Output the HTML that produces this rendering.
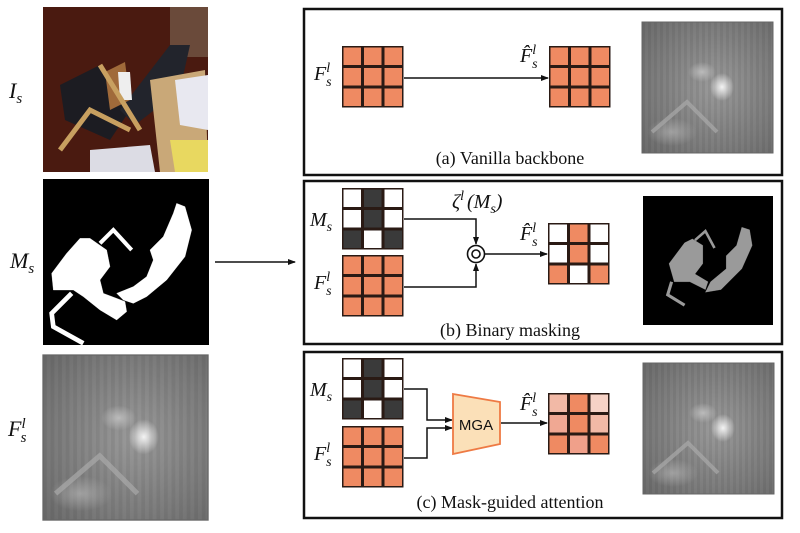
<!DOCTYPE html>
<html><head><meta charset="utf-8"><style>
html,body{margin:0;padding:0;background:#fff;}
svg{display:block;}
text{font-family:"Liberation Serif",serif;fill:#111;}
.it{font-style:italic;}
</style></head><body>
<svg width="800" height="533" viewBox="0 0 800 533">
<defs>
<radialGradient id="g1" cx="0.55" cy="0.5" r="0.75"><stop offset="0" stop-color="#9a9a9a"/><stop offset="1" stop-color="#6a6a6a"/></radialGradient>
<radialGradient id="hot" cx="0.5" cy="0.5" r="0.5"><stop offset="0" stop-color="#f4f4f4"/><stop offset="1" stop-color="#f4f4f4" stop-opacity="0"/></radialGradient>
<radialGradient id="soft" cx="0.5" cy="0.5" r="0.5"><stop offset="0" stop-color="#bbb"/><stop offset="1" stop-color="#bbb" stop-opacity="0"/></radialGradient>
<pattern id="noise" width="6" height="6" patternUnits="userSpaceOnUse"><rect width="3" height="6" fill="#000" opacity="0.06"/></pattern>
<marker id="ah" markerWidth="8" markerHeight="8" refX="7" refY="4" orient="auto" markerUnits="userSpaceOnUse"><path d="M0,1 L8,4 L0,7 z" fill="#111"/></marker>
<g id="feat">
<rect x="0" y="0" width="131" height="131" fill="url(#g1)"/>
<rect x="0" y="0" width="131" height="131" fill="url(#noise)"/>
<ellipse cx="60" cy="50" rx="14" ry="10" fill="url(#soft)"/>
<ellipse cx="80" cy="65" rx="12" ry="14" fill="url(#hot)"/>
<ellipse cx="30" cy="110" rx="25" ry="14" fill="url(#soft)" opacity="0.6"/>
<path d="M10,110 L45,80 L75,110" stroke="#aaa" stroke-width="4" fill="none" opacity="0.7"/>
<rect x="0" y="0" width="131" height="131" fill="none" stroke="#666" stroke-width="1"/>
</g>
</defs>

<text x="9" y="98" class="it" font-size="22">I<tspan font-size="15" dy="5">s</tspan></text>
<g>
<rect x="43" y="7" width="165" height="165" fill="#4a1a10"/>
<rect x="170" y="7" width="38" height="50" fill="#6a4a3a"/>
<path d="M60,85 L100,65 L130,110 L110,140 L65,120 z" fill="#1c1c22"/>
<path d="M120,110 L170,45 L190,45 L180,90 L135,125 z" fill="#22242c"/>
<path d="M150,80 L205,70 L208,172 L160,172 z" fill="#c9a878"/>
<path d="M175,80 L208,75 L208,130 L180,125 z" fill="#e8e8f0"/>
<path d="M170,140 L208,140 L208,172 L175,172 z" fill="#e8d860"/>
<path d="M90,150 L150,145 L155,172 L90,172 z" fill="#dcdce4"/>
<path d="M105,72 L125,62 L130,100 L110,110 z" fill="#a06a3a"/>
<path d="M118,72 L130,72 L132,100 L120,100 z" fill="#eee"/>
<path d="M100,65 L140,130 M60,150 L90,110 L130,130" stroke="#c8a060" stroke-width="5" fill="none"/>
</g>
<text x="10" y="268" class="it" font-size="22">M<tspan font-size="15" dy="5">s</tspan></text>
<g>
<rect x="43" y="179" width="166" height="166" fill="#000"/>
<g transform="translate(0,170) scale(0.3333)" fill="#fff" stroke="#fff">
<path d="M155,310 L200,250 L240,205 L270,205 L320,240 L330,290 L300,330 L310,370 L350,385 L375,395 L380,425 L350,450 L300,420 L250,380 L220,360 L160,360 z"/>
<path d="M300,220 L340,180 L395,240" stroke-width="12" fill="none"/>
<path d="M450,240 L490,200 L520,130 L530,100 L555,110 L575,180 L555,260 L500,330 L440,380 L400,400 L370,390 L350,370 L400,350 L440,320 L460,270 z"/>
<path d="M215,370 L155,430 L160,470 L250,520" stroke-width="14" fill="none"/>
</g>
</g>
<text x="8" y="436" class="it" font-size="22">F<tspan font-size="15" dy="-8">l</tspan><tspan font-size="15" dx="-5" dy="14">s</tspan></text>
<use href="#feat" transform="translate(43,355) scale(1.26)"/>

<line x1="215" y1="262" x2="295" y2="262" stroke="#111" stroke-width="1.6" marker-end="url(#ah)"/>

<g id="panels"></g>
</svg>
<script>
const NS='http://www.w3.org/2000/svg';
const panels=document.getElementById('panels');
const C='#ef8a62';
function el(tag,attrs,parent){const e=document.createElementNS(NS,tag);for(const k in attrs)e.setAttribute(k,attrs[k]);(parent||panels).appendChild(e);return e;}
function grid(x,y,colors,name){
  const g=el('g',{});
  
  
  const s=20.5;
  el('rect',{x:x,y:y,width:s*3,height:s*3,fill:'#2a1a14'},g);
  for(let i=0;i<9;i++){const r=Math.floor(i/3),c=i%3;
    el('rect',{x:x+1.5+c*s,y:y+1.5+r*s,width:s-3,height:s-3,fill:colors[i]},g);}
}
function label(x,y,main,sub,sup,hat,name){
  const t=el('text',{x:x,y:y,'font-size':20,class:'it'});
  
  
  let h=(hat?main+'\u0302':main);
  if(sup) h+='<tspan font-size="14" dy="-8">'+sup+'</tspan><tspan font-size="14" dx="-4" dy="14">'+sub+'</tspan>';
  else h+='<tspan font-size="14" dy="5">'+sub+'</tspan>';
  t.innerHTML=h;
}
const O=Array(9).fill(C);
const W='#fff',K='#3a3a3a';
const M=[W,K,W,W,K,W,K,W,K];
const BM=[W,C,W,W,C,W,C,W,C];
const AM=['#f2b9a6',C,'#f6d2c6','#f0a893',C,'#f2b9a6',C,'#f0a08a',C];
const boxes=[[9,175],[181,344],[352,518]];
boxes.forEach((b,i)=>{const r=el('rect',{x:304,y:b[0],width:478,height:b[1]-b[0],fill:'none',stroke:'#111','stroke-width':2.5});
  
  });
// (a)
grid(342,46,O,'input-feature-grid-a');
label(314,80,'F','s','l',false,'label-fs-a');
el('line',{x1:404,y1:78,x2:548,y2:78,stroke:'#111','stroke-width':1.6,'marker-end':'url(#ah)'});
grid(549,46,O,'output-feature-grid-a');
label(520,62,'F','s','l',true,'label-fhat-a');
const ia=el('use',{href:'#feat',transform:'translate(642,22)'});


let t=el('text',{x:510,y:164,'font-size':18,'text-anchor':'middle'});t.textContent='(a) Vanilla backbone';

// (b)
grid(342,188,M,'mask-grid-b');
label(310,226,'M','s','',false,'label-ms-b');
grid(342,255,O,'feature-grid-b');
label(314,289,'F','s','l',false,'label-fs-b');
el('path',{d:'M404,219 L476,219 L476,244',stroke:'#111','stroke-width':1.5,fill:'none','marker-end':'url(#ah)'});
el('path',{d:'M404,287 L476,287 L476,264',stroke:'#111','stroke-width':1.5,fill:'none','marker-end':'url(#ah)'});
const op=el('g',{});
el('circle',{cx:476,cy:254,r:8.5,fill:'#fff',stroke:'#111','stroke-width':1.6},op);
el('circle',{cx:476,cy:254,r:4,fill:'none',stroke:'#111','stroke-width':1.6},op);
el('line',{x1:485,y1:254,x2:547,y2:254,stroke:'#111','stroke-width':1.6,'marker-end':'url(#ah)'});
t=el('text',{x:452,y:208,'font-size':20,class:'it'});t.innerHTML='ζ<tspan font-size="14" dy="-8">l</tspan><tspan dx="3" dy="8">(M</tspan><tspan font-size="14" dy="5">s</tspan><tspan dy="-5">)</tspan>';

grid(548,223,BM,'masked-output-grid-b');
label(520,240,'F','s','l',true,'label-fhat-b');
const mb=el('g',{});
el('rect',{x:643,y:196,width:130,height:129,fill:'#000'},mb);
const mg=el('g',{transform:'translate(643,196) scale(0.26)',fill:'#9a9a9a',stroke:'#9a9a9a'},mb);
el('path',{d:'M100,260 L160,180 L190,165 L230,190 L230,260 L200,300 L250,330 L240,360 L180,330 L120,330 z'},mg);
el('path',{d:'M200,170 L240,135 L275,200',fill:'none','stroke-width':10},mg);
el('path',{d:'M110,330 L95,380 L160,420',fill:'none','stroke-width':12},mg);
el('path',{d:'M320,230 L360,190 L380,120 L410,130 L420,190 L380,280 L300,360 L240,370 L260,330 L320,280 z'},mg);
t=el('text',{x:510,y:336,'font-size':18,'text-anchor':'middle'});t.textContent='(b) Binary masking';

// (c)
grid(342,358,M,'mask-grid-c');
label(310,396,'M','s','',false,'label-ms-c');
grid(342,426,O,'feature-grid-c');
label(314,460,'F','s','l',false,'label-fs-c');
el('path',{d:'M404,389 L427,389 L427,420 L452,420',stroke:'#111','stroke-width':1.5,fill:'none','marker-end':'url(#ah)'});
el('path',{d:'M404,458 L427,458 L427,428 L452,428',stroke:'#111','stroke-width':1.5,fill:'none','marker-end':'url(#ah)'});
const mga=el('g',{});
el('path',{d:'M453,394 L500,402 L500,444 L453,454 z',fill:'#fbe0b8',stroke:'#ee7a44','stroke-width':1.8},mga);
t=el('text',{x:476,y:430,'font-size':15,'text-anchor':'middle'},mga);t.textContent='MGA';t.setAttribute('style','font-family:"Liberation Sans",sans-serif');
el('line',{x1:501,y1:423,x2:547,y2:423,stroke:'#111','stroke-width':1.6,'marker-end':'url(#ah)'});
grid(548,393,AM,'attended-output-grid-c');
label(520,410,'F','s','l',true,'label-fhat-c');
const ic=el('use',{href:'#feat',transform:'translate(643,363)'});

t=el('text',{x:510,y:508,'font-size':18,'text-anchor':'middle'});t.textContent='(c) Mask-guided attention';

</script>
</body></html>
